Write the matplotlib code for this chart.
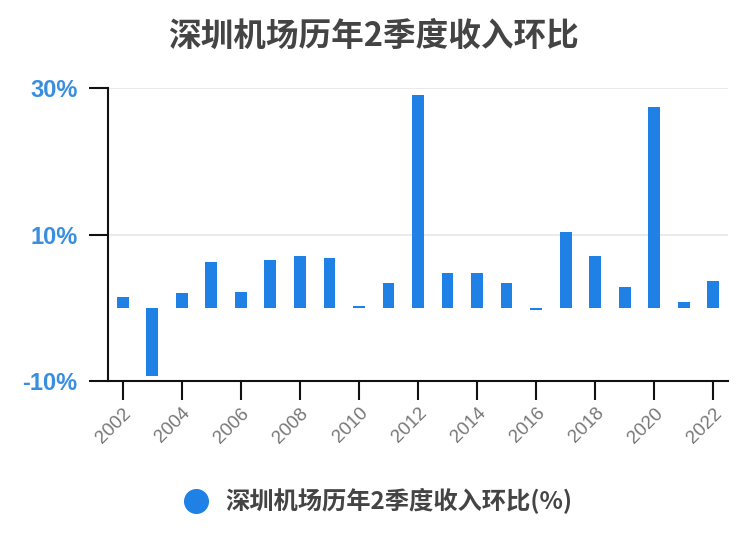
import matplotlib
matplotlib.use("Agg")
import matplotlib.pyplot as plt
from matplotlib.lines import Line2D

plt.rcParams['font.family'] = ['Noto Sans CJK SC', 'DejaVu Sans']

years = [str(y) for y in range(2002, 2023)]
values = [1.4, -9.3, 2.0, 6.2, 2.2, 6.5, 7.1, 6.8, 0.2, 3.4, 29.1,
          4.8, 4.8, 3.4, -0.3, 10.4, 7.1, 2.8, 27.4, 0.8, 3.7]
yticks = [-10, 10, 30]
ytick_labels = ['-10%', '10%', '30%']
title = '深圳机场历年2季度收入环比'
legend_label = '深圳机场历年2季度收入环比(%)'

bar_color = '#1f80e6'
label_blue = '#3a8ee0'

fig = plt.figure(figsize=(7.5, 5.58), dpi=100)
ax = fig.add_axes([108/750, 1-381/558, (728-108)/750, (381-88)/558])

x = list(range(len(years)))
ax.bar(x, values, width=0.4, color=bar_color, zorder=3)

ax.set_xlim(-0.5, len(years)-0.5)
ax.set_ylim(-10, 30)
ax.set_yticks(yticks)
ax.set_yticklabels(ytick_labels, color=label_blue, fontsize=17, fontweight='bold',
                   family=['Liberation Sans'])
for yv in yticks[1:]:
    ax.axhline(yv, color='#e6e6e6', lw=1.2, zorder=1)

ax.set_xticks(x[::2])
ax.set_xticklabels(years[::2], rotation=45, ha='right', va='top', color='#777777',
                   fontsize=13.5, rotation_mode='anchor', family=['Liberation Sans'])
ax.tick_params(axis='both', length=14, width=1.5, color='#111111')
ax.tick_params(axis='x', pad=3)
ax.tick_params(axis='y', pad=8)

for s in ['top', 'right']:
    ax.spines[s].set_visible(False)
for s in ['left', 'bottom']:
    ax.spines[s].set_linewidth(1.5)
    ax.spines[s].set_color('#111111')

fig.text(373/750, 1-36/558, title, ha='center', va='center', fontsize=23.5,
         fontweight='bold', color='#444444')

fig.legend(handles=[Line2D([0], [0], marker='o', color='none', markerfacecolor=bar_color,
                           markeredgecolor=bar_color, markersize=17)],
           labels=[legend_label], loc='center', bbox_to_anchor=(377/750, 1-501/558),
           frameon=False, prop={'size': 17.5, 'weight': 'bold'}, labelcolor='#444444',
           handletextpad=0.6, handlelength=1.2)

fig.savefig('out.png', dpi=100)
